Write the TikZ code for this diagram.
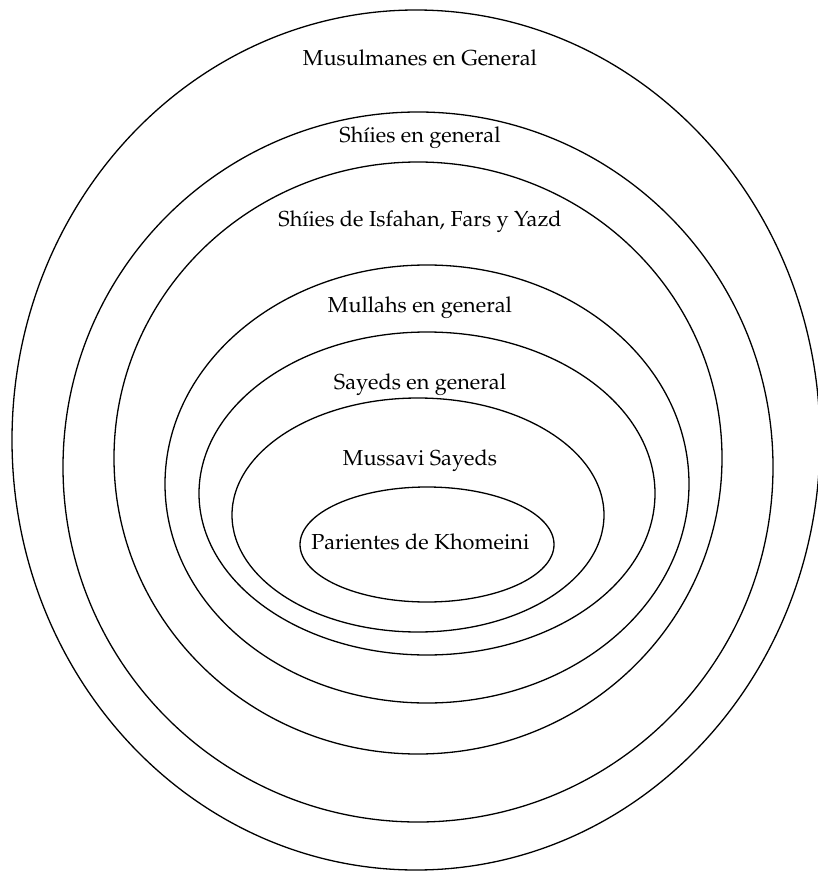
\documentclass[tikz,border=0pt]{standalone}
\usepackage[T1]{fontenc}
\usepackage{mathpazo}
\tikzset{
  ring/.style={draw=black, line width=1.3pt},
  lab/.style={anchor=base, inner sep=0pt, font=\fontsize{21.7}{26}\selectfont},
}
\begin{document}
\begin{tikzpicture}[x=1pt,y=-1pt]
\useasboundingbox (0,0) rectangle (818,872);
\begin{scope}
\clip (0,0) rectangle (818,872);
\draw[ring] (416,440) ellipse [x radius=404, y radius=430];
\draw[ring] (418,467) ellipse [x radius=355, y radius=355];
\draw[ring] (418,458) ellipse [x radius=304, y radius=296];
\draw[ring] (427,484) ellipse [x radius=262, y radius=219];
\draw[ring] (427,493.5) ellipse [x radius=228, y radius=161.5];
\draw[ring] (418,515) ellipse [x radius=186, y radius=117];
\draw[ring] (427,544.5) ellipse [x radius=127, y radius=57.5];
\end{scope}
\node[lab] (l1) at (420,66) {Musulmanes en General};
\node[lab] (l2) at (420,142.7) {Sh\'{\i}ies en general};
\node[lab] (l3) at (420,226.7) {Sh\'{\i}ies de Isfahan, Fars y Yazd};
\node[lab] (l4) at (420,312.3) {Mullahs en general};
\node[lab] (l5) at (420,389.3) {Sayeds en general};
\node[lab] (l6) at (420,465) {Mussavi Sayeds};
\node[lab] (l7) at (420.3,549.3) {Parientes de Khomeini};
\end{tikzpicture}
\end{document}
